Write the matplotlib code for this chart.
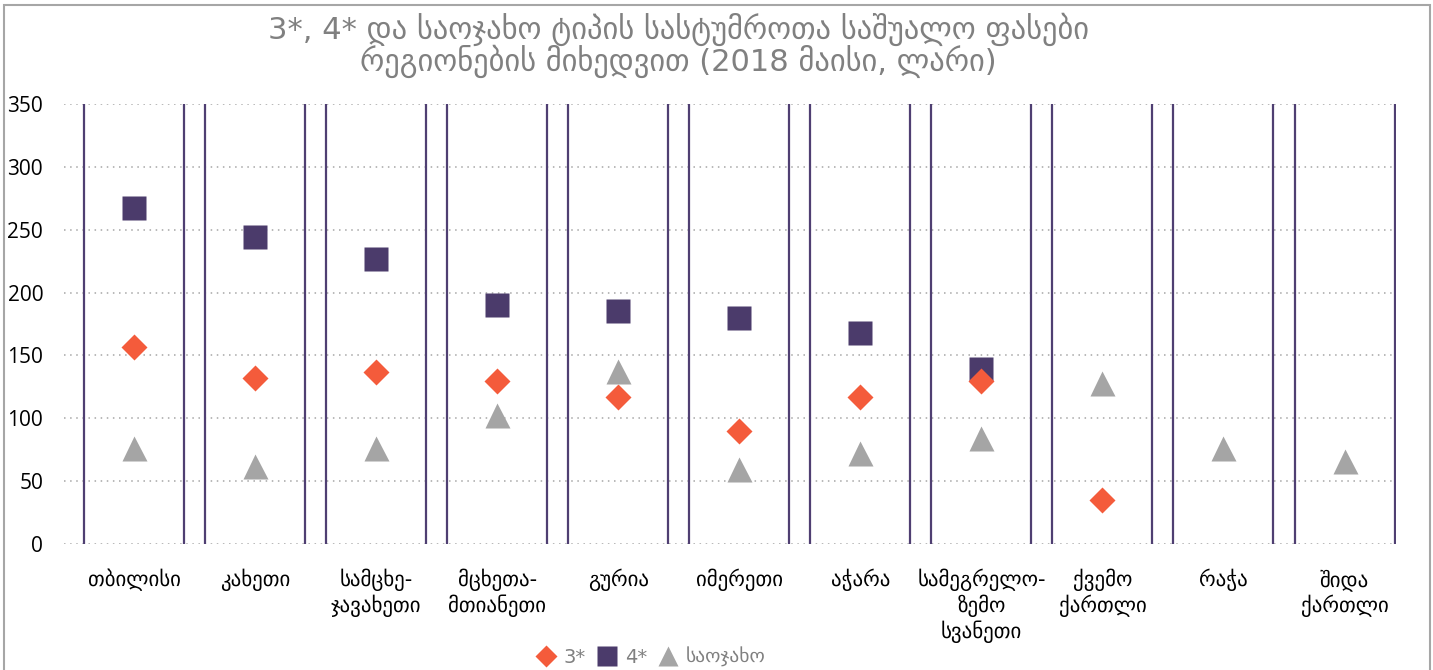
import matplotlib
matplotlib.use("Agg")
import matplotlib.pyplot as plt
from matplotlib.patches import Rectangle
from matplotlib.lines import Line2D
import numpy as np

plt.rcParams['font.family'] = ['DejaVu Sans']

categories = ["თბილისი", "კახეთი", "სამცხე-\nჯავახეთი", "მცხეთა-\nმთიანეთი", "გურია",
              "იმერეთი", "აჭარა", "სამეგრელო-\nზემო\nსვანეთი", "ქვემო\nქართლი", "რაჭა",
              "შიდა\nქართლი"]
three_star = [157, 132, 137, 130, 117, 90, 117, 130, 35, np.nan, np.nan]
four_star = [267, 244, 227, 190, 185, 180, 168, 139, np.nan, np.nan, np.nan]
family = [76, 62, 76, 103, 138, 60, 72, 84, 128, 76, 66]
series_names = ["3*", "4*", "საოჯახო"]
title_text = "3*, 4* და საოჯახო ტიპის სასტუმროთა საშუალო ფასები\nრეგიონების მიხედვით (2018 მაისი, ლარი)"
yticks = [0, 50, 100, 150, 200, 250, 300, 350]

W, H = 1433, 670
fig = plt.figure(figsize=(W / 100, H / 100), dpi=100)
ax = fig.add_axes([64 / W, 1 - 544 / H, (1396 - 64) / W, (544 - 104) / H])

x = np.arange(len(categories))
ax.set_xlim(-0.578, 10.425)
ax.set_ylim(0, 350)

for yt in yticks:
    ax.axhline(yt, color="#a6a6a6", lw=1.1, ls=(0, (1, 3)), zorder=1)

line_col = "#4f3f72"
for xi in x:
    ax.axvline(xi - 0.413, color=line_col, lw=1.6, zorder=2)
    ax.axvline(xi + 0.413, color=line_col, lw=1.6, zorder=2)

ax.plot(x, three_star, ls="none", marker="D", ms=13.5, color="#f45b3b", mec="none", zorder=4)
ax.plot(x, four_star, ls="none", marker="s", ms=17, color="#4b3b6b", mec="none", zorder=3)
ax.plot(x, family, ls="none", marker="^", ms=18, color="#a5a5a5", mec="none", zorder=5)

for s in ax.spines.values():
    s.set_visible(False)
ax.set_yticks(yticks)
ax.set_yticklabels([str(v) for v in yticks], fontsize=15, family=["Open Sans", "DejaVu Sans"])
ax.tick_params(axis="y", length=0, pad=15)
ax.set_xticks(x)
ax.set_xticklabels(categories, fontsize=15, linespacing=1.2, va="top")
ax.tick_params(axis="x", length=0, pad=18)

fig.text(678 / W, 1 - 45 / H, title_text, ha="center", va="center", fontsize=22,
         color="#808080", linespacing=0.95)

handles = [
    Line2D([], [], ls="none", marker="D", ms=11, color="#f45b3b", mec="none"),
    Line2D([], [], ls="none", marker="s", ms=14, color="#4b3b6b", mec="none"),
    Line2D([], [], ls="none", marker="^", ms=15, color="#a5a5a5", mec="none"),
]
fig.legend(handles, series_names, loc="center", bbox_to_anchor=(651 / W, 1 - 657 / H),
           ncol=3, frameon=False, fontsize=14, handlelength=1.0, handletextpad=0.4,
           columnspacing=0.6, labelcolor="#808080", borderpad=0.2)

fig.patches.append(Rectangle((4 / W, -0.2), (1430 - 4) / W, 1.2 - 5 / H,
                             transform=fig.transFigure, fill=False,
                             edgecolor="#a6a6a6", lw=1.5))

fig.savefig("out.png", dpi=100)
